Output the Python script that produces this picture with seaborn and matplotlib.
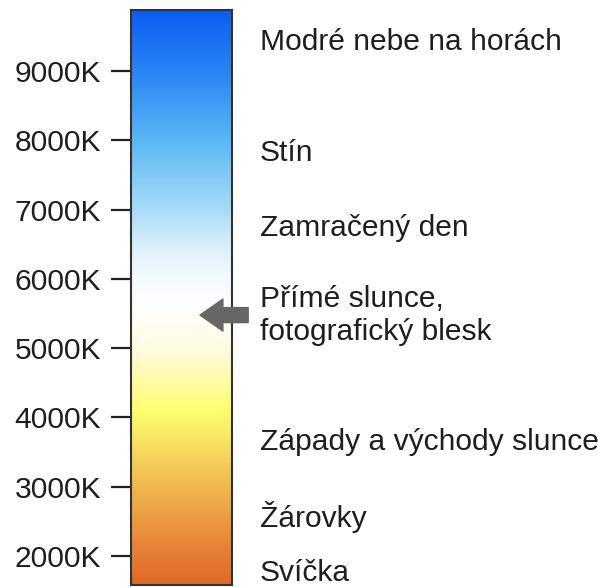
import numpy as np
import matplotlib
matplotlib.use("Agg")
import matplotlib.pyplot as plt
from matplotlib.colors import LinearSegmentedColormap
import seaborn as sns

# ---- data ----
k_min, k_max = 1580, 9880
tick_values = [2000, 3000, 4000, 5000, 6000, 7000, 8000, 9000]
tick_labels = ["2000K", "3000K", "4000K", "5000K", "6000K", "7000K", "8000K", "9000K"]

stop_kelvin = [1580, 2200, 3000, 3600, 4100, 5000, 5600, 6000, 6400, 7000, 8000, 9000, 9880]
stop_colors = ["#e06828", "#e88838", "#f0b850", "#f8e060", "#fffe70", "#fffbe0", "#ffffff",
               "#f5faff", "#e0f2fc", "#a8dcf8", "#5ab8f5", "#2a85f5", "#0a5ff0"]

label_texts = ["Modré nebe na horách", "Stín", "Zamračený den",
               "Přímé slunce,\nfotografický blesk", "Západy a východy slunce",
               "Žárovky", "Svíčka"]
label_kelvin = [9420, 7810, 6740, 5476, 3650, 2560, 1750]

arrow_kelvin = 5476

# ---- style ----
sns.set_theme(style="white")
plt.rcParams["font.family"] = ["Liberation Sans", "DejaVu Sans"]

fig = plt.figure(figsize=(5.98, 5.87), dpi=100)
ax = fig.add_axes([131 / 598, 2 / 587, 101 / 598, 575 / 587])

positions = [(k - k_min) / (k_max - k_min) for k in stop_kelvin]
cmap = LinearSegmentedColormap.from_list("ct", list(zip(positions, stop_colors)))

grid = np.linspace(k_min, k_max, 600).reshape(-1, 1)
ax.imshow(grid, cmap=cmap, vmin=k_min, vmax=k_max, origin="lower",
          extent=[0, 1, k_min, k_max], aspect="auto", interpolation="bilinear")
ax.set_xlim(0, 1)
ax.set_ylim(k_min, k_max)
ax.set_xticks([])
ax.set_yticks(tick_values)
ax.set_yticklabels(tick_labels, fontsize=21.6, color="#1e1e1e")
ax.tick_params(axis="y", left=True, length=14.5, width=1.6, color="#222222",
               pad=7, direction="out")
for s in ax.spines.values():
    s.set_visible(True)
    s.set_color("#333333")
    s.set_linewidth(1.5)

tr = ax.get_yaxis_transform()
for t, k in zip(label_texts, label_kelvin):
    ax.text(1.277, k, t, transform=tr, fontsize=21.6, color="#1e1e1e",
            va="center", ha="left", linespacing=1.22)

ax.annotate("", xy=(0.683, arrow_kelvin), xytext=(1.16, arrow_kelvin),
            xycoords=("axes fraction", "data"), textcoords=("axes fraction", "data"),
            arrowprops=dict(arrowstyle="simple,head_length=1.65,head_width=2.3,tail_width=1.08",
                            color="#666666", mutation_scale=10, shrinkA=0, shrinkB=0),
            annotation_clip=False)

fig.savefig("out.png", dpi=100, facecolor="white")
